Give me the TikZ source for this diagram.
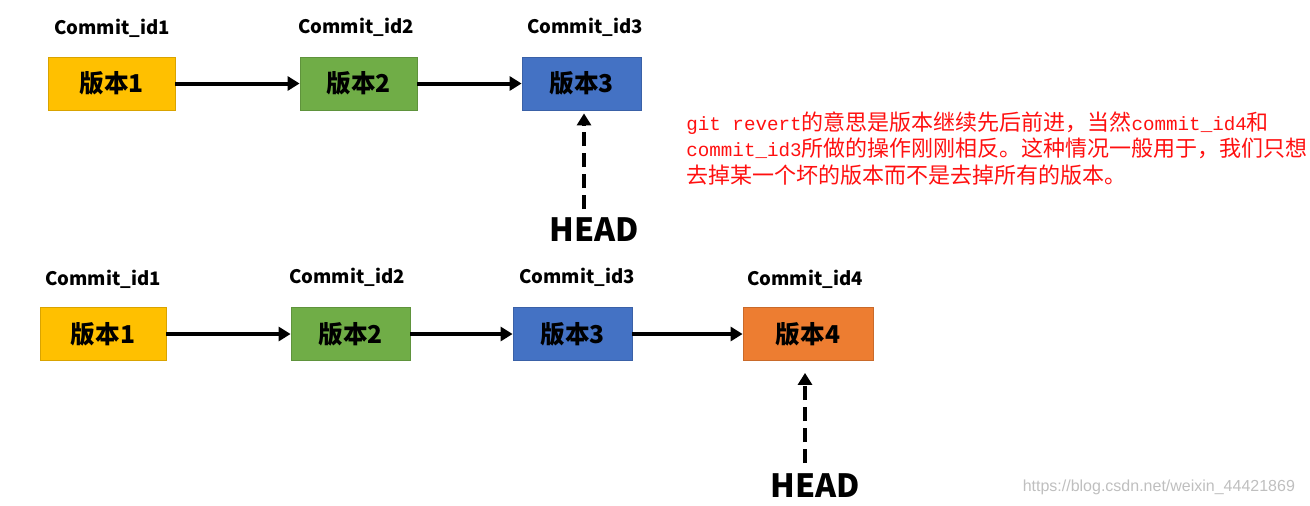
\documentclass[tikz,border=0pt]{standalone}
\usepackage{fontspec}
\setmainfont{Noto Sans CJK SC}
\newfontfamily\monofont{Liberation Mono}
\newfontfamily\markfont{Liberation Sans}
\usetikzlibrary{arrows.meta}

\definecolor{verA}{HTML}{FFC000}
\definecolor{verB}{HTML}{70AD47}
\definecolor{verC}{HTML}{4472C4}
\definecolor{verD}{HTML}{ED7D31}
\definecolor{noteRed}{HTML}{FF1010}

\begin{document}
\begin{tikzpicture}[x=0.5pt,y=-0.5pt,
  version/.style={draw=#1!85!black, line width=0.4pt, fill=#1,
    minimum height=26.5pt, inner sep=0pt,
    font=\fontsize{12.3}{14}\selectfont\bfseries},
  commit/.style={font=\fontsize{9.3}{11}\selectfont\bfseries},
  headlbl/.style={font=\fontsize{16}{19}\selectfont\bfseries},
  next/.style={line width=2pt, -{Triangle[length=6pt,width=7pt]}},
  headptr/.style={line width=2pt, dash pattern=on 7pt off 3.5pt,
    -{Triangle[length=6pt,width=7pt]}}]

\useasboundingbox (0,0) rectangle (1310,505);

% first history
\node[version=verA, minimum width=63.5pt] (t1) at (111.5,83.5) {版本1};
\node[version=verB, minimum width=58.5pt] (t2) at (358.5,83.5) {版本2};
\node[version=verC, minimum width=59.5pt] (t3) at (581.5,83.5) {版本3};

\node[commit] (tc1) at (112,28) {Commit\_id1};
\node[commit] (tc2) at (356,27) {Commit\_id2};
\node[commit] (tc3) at (585,27) {Commit\_id3};

\draw[next] (t1) -- (t2);
\draw[next] (t2) -- (t3);

\node[headlbl] (th) at (594,230) {HEAD};
\coordinate (thp) at (584,209);
\draw[headptr] (thp) -- ([yshift=-1.5pt]thp |- t3.south);

% after git revert
\node[version=verA, minimum width=63pt] (b1) at (103,334) {版本1};
\node[version=verB, minimum width=59.5pt] (b2) at (350.5,334) {版本2};
\node[version=verC, minimum width=59.5pt] (b3) at (572.5,334) {版本3};
\node[version=verD, minimum width=65pt] (b4) at (808,334) {版本4};

\node[commit] (bc1) at (103,279) {Commit\_id1};
\node[commit] (bc2) at (347,277) {Commit\_id2};
\node[commit] (bc3) at (577,277) {Commit\_id3};
\node[commit] (bc4) at (805,279) {Commit\_id4};

\draw[next] (b1) -- (b2);
\draw[next] (b2) -- (b3);
\draw[next] (b3) -- (b4);

\node[headlbl] (bh) at (815,486) {HEAD};
\coordinate (bhp) at (805,463);
\draw[headptr] (bhp) -- ([yshift=-6pt]bhp |- b4.south);

% note
\node[anchor=north west, align=left, inner sep=0pt, text=noteRed,
  font=\fontsize{11}{13.25}\selectfont] (note) at (686,111)
  {{\monofont\fontsize{9.6}{13.25}\selectfont git revert}的意思是版本继续先后前进，当然{\monofont\fontsize{9.6}{13.25}\selectfont commit\_id4}和\\
   {\monofont\fontsize{9.6}{13.25}\selectfont commit\_id3}所做的操作刚刚相反。这种情况一般用于，我们只想\\
   去掉某一个坏的版本而不是去掉所有的版本。};

\node[anchor=east, text=black!25, font=\markfont\fontsize{8}{10}\selectfont]
  (mark) at (1302,487) {https://blog.csdn.net/weixin\_44421869};

\end{tikzpicture}
\end{document}
